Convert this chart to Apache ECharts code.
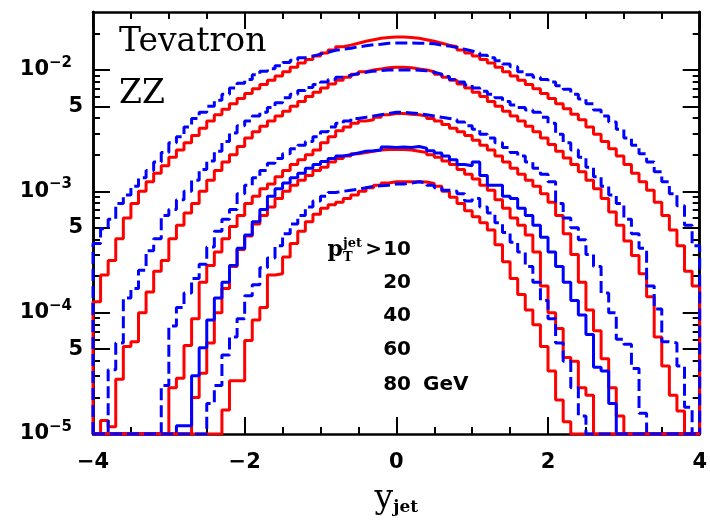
<!DOCTYPE html>
<html>
<head>
<meta charset="utf-8">
<script src="https://cdn.jsdelivr.net/npm/echarts@6/dist/echarts.min.js"></script>
<style>
  html, body { margin: 0; padding: 0; background: #fff; }
  #chart { width: 710px; height: 521px; }
</style>
</head>
<body>
<div id="chart"></div>
<script>
// histogram bins: 80 bins of width 0.1 from y_jet = -4 to 4
const binStart = -4;
const binWidth = 0.1;
const nBins = 80;
const yMin = 1e-5;
const yMax = 0.03;

// pT cut 10 GeV
const red10 = [
  1.23e-4, 2.04e-4, 2.69e-4, 4.07e-4, 6.03e-4, 7.94e-4, 1.00e-3, 1.20e-3, 1.41e-3, 1.62e-3,
  1.91e-3, 2.19e-3, 2.51e-3, 2.88e-3, 3.31e-3, 3.80e-3, 4.27e-3, 4.73e-3, 5.25e-3, 5.82e-3,
  6.38e-3, 7.00e-3, 7.59e-3, 8.22e-3, 8.91e-3, 9.66e-3, 1.05e-2, 1.14e-2, 1.22e-2, 1.30e-2,
  1.38e-2, 1.46e-2, 1.55e-2, 1.60e-2, 1.66e-2, 1.72e-2, 1.77e-2, 1.82e-2, 1.85e-2, 1.87e-2,
  1.87e-2, 1.85e-2, 1.82e-2, 1.77e-2, 1.72e-2, 1.66e-2, 1.60e-2, 1.55e-2, 1.46e-2, 1.38e-2,
  1.30e-2, 1.22e-2, 1.14e-2, 1.05e-2, 9.66e-3, 8.91e-3, 8.22e-3, 7.59e-3, 7.00e-3, 6.38e-3,
  5.82e-3, 5.25e-3, 4.79e-3, 4.32e-3, 3.89e-3, 3.39e-3, 2.95e-3, 2.57e-3, 2.24e-3, 1.95e-3,
  1.66e-3, 1.41e-3, 1.20e-3, 1.02e-3, 8.13e-4, 6.31e-4, 4.79e-4, 3.55e-4, 2.19e-4, 1.66e-4
];
const blue10 = [
  3.72e-4, 4.90e-4, 5.89e-4, 7.94e-4, 9.33e-4, 1.10e-3, 1.29e-3, 1.48e-3, 1.74e-3, 2.09e-3,
  2.51e-3, 2.82e-3, 3.39e-3, 3.98e-3, 4.47e-3, 5.01e-3, 5.62e-3, 6.31e-3, 7.08e-3, 7.76e-3,
  8.32e-3, 9.12e-3, 9.77e-3, 1.02e-2, 1.08e-2, 1.15e-2, 1.20e-2, 1.26e-2, 1.30e-2, 1.35e-2,
  1.40e-2, 1.45e-2, 1.48e-2, 1.51e-2, 1.55e-2, 1.58e-2, 1.61e-2, 1.63e-2, 1.66e-2, 1.67e-2,
  1.67e-2, 1.67e-2, 1.66e-2, 1.66e-2, 1.64e-2, 1.60e-2, 1.57e-2, 1.53e-2, 1.48e-2, 1.43e-2,
  1.38e-2, 1.32e-2, 1.26e-2, 1.19e-2, 1.12e-2, 1.06e-2, 9.66e-3, 9.12e-3, 8.71e-3, 8.32e-3,
  7.94e-3, 7.41e-3, 6.92e-3, 6.31e-3, 5.75e-3, 5.25e-3, 4.68e-3, 4.17e-3, 3.72e-3, 3.24e-3,
  2.75e-3, 2.40e-3, 2.04e-3, 1.74e-3, 1.45e-3, 1.20e-3, 9.55e-4, 7.59e-4, 5.25e-4, 3.55e-4
];
// pT cut 20 GeV
const red20 = [
  0, 1.29e-5, 1.15e-5, 2.82e-5, 5.25e-5, 5.75e-5, 1.00e-4, 1.48e-4, 2.19e-4, 2.69e-4,
  4.07e-4, 5.25e-4, 6.61e-4, 7.94e-4, 1.00e-3, 1.23e-3, 1.48e-3, 1.74e-3, 2.00e-3, 2.34e-3,
  2.75e-3, 3.09e-3, 3.43e-3, 3.80e-3, 4.17e-3, 4.57e-3, 5.01e-3, 5.50e-3, 6.03e-3, 6.53e-3,
  7.08e-3, 7.67e-3, 8.22e-3, 8.71e-3, 9.23e-3, 9.66e-3, 1.00e-2, 1.02e-2, 1.04e-2, 1.05e-2,
  1.05e-2, 1.04e-2, 1.02e-2, 1.00e-2, 9.66e-3, 9.23e-3, 8.71e-3, 8.22e-3, 7.67e-3, 7.08e-3,
  6.53e-3, 6.03e-3, 5.50e-3, 5.01e-3, 4.57e-3, 4.17e-3, 3.80e-3, 3.43e-3, 3.09e-3, 2.75e-3,
  2.43e-3, 2.14e-3, 1.88e-3, 1.66e-3, 1.45e-3, 1.23e-3, 1.05e-3, 8.71e-4, 6.76e-4, 5.25e-4,
  3.89e-4, 2.95e-4, 2.09e-4, 1.35e-4, 6.31e-5, 3.63e-5, 2.09e-5, 1.55e-5, 0, 0
];
const blue20 = [
  0, 0, 3.39e-5, 5.62e-5, 1.32e-4, 1.58e-4, 2.24e-4, 3.24e-4, 4.07e-4, 6.31e-4,
  7.08e-4, 8.51e-4, 1.00e-3, 1.23e-3, 1.51e-3, 1.78e-3, 2.14e-3, 2.57e-3, 3.02e-3, 3.47e-3,
  3.80e-3, 4.17e-3, 4.47e-3, 4.90e-3, 5.37e-3, 5.89e-3, 6.31e-3, 6.76e-3, 7.16e-3, 7.59e-3,
  7.94e-3, 8.32e-3, 8.71e-3, 9.02e-3, 9.33e-3, 9.55e-3, 9.77e-3, 9.89e-3, 1.00e-2, 1.00e-2,
  1.00e-2, 1.00e-2, 9.93e-3, 9.82e-3, 9.55e-3, 9.23e-3, 8.81e-3, 8.32e-3, 7.94e-3, 7.50e-3,
  7.08e-3, 6.68e-3, 6.31e-3, 5.89e-3, 5.50e-3, 5.13e-3, 4.90e-3, 4.68e-3, 4.47e-3, 4.07e-3,
  3.63e-3, 2.95e-3, 2.51e-3, 2.19e-3, 1.91e-3, 1.58e-3, 1.32e-3, 1.10e-3, 9.33e-4, 7.94e-4,
  5.89e-4, 4.47e-4, 3.39e-4, 1.66e-4, 1.07e-4, 5.75e-5, 5.62e-5, 3.63e-5, 1.66e-5, 0
];
// pT cut 40 GeV
const red40 = [
  0, 0, 0, 0, 0, 0, 0, 0, 0, 0,
  2.40e-5, 2.88e-5, 5.37e-5, 8.91e-5, 1.78e-4, 2.45e-4, 3.16e-4, 4.07e-4, 5.13e-4, 6.31e-4,
  7.94e-4, 9.12e-4, 1.05e-3, 1.15e-3, 1.32e-3, 1.48e-3, 1.66e-3, 1.82e-3, 2.00e-3, 2.19e-3,
  2.51e-3, 2.82e-3, 3.16e-3, 3.39e-3, 3.63e-3, 3.80e-3, 3.89e-3, 4.07e-3, 4.27e-3, 4.37e-3,
  4.37e-3, 4.32e-3, 4.27e-3, 4.17e-3, 3.98e-3, 3.80e-3, 3.55e-3, 3.31e-3, 3.09e-3, 2.88e-3,
  2.63e-3, 2.40e-3, 2.19e-3, 1.95e-3, 1.74e-3, 1.55e-3, 1.38e-3, 1.23e-3, 1.10e-3, 9.55e-4,
  8.13e-4, 6.31e-4, 4.47e-4, 3.02e-4, 1.78e-4, 1.05e-4, 7.08e-5, 4.17e-5, 2.40e-5, 1.41e-5,
  0, 0, 0, 0, 0, 0, 0, 0, 0, 0
];
const blue40 = [
  0, 0, 0, 0, 0, 0, 0, 0, 0, 2.51e-5,
  7.76e-5, 1.10e-4, 1.45e-4, 1.91e-4, 2.51e-4, 3.47e-4, 4.68e-4, 5.89e-4, 7.08e-4, 9.55e-4,
  1.12e-3, 1.29e-3, 1.48e-3, 1.70e-3, 1.86e-3, 2.04e-3, 2.24e-3, 2.40e-3, 2.57e-3, 2.82e-3,
  3.09e-3, 3.39e-3, 3.63e-3, 3.80e-3, 3.98e-3, 4.07e-3, 4.17e-3, 4.27e-3, 4.37e-3, 4.47e-3,
  4.47e-3, 4.42e-3, 4.37e-3, 4.27e-3, 4.17e-3, 4.07e-3, 3.98e-3, 3.89e-3, 3.72e-3, 3.47e-3,
  3.24e-3, 2.95e-3, 2.75e-3, 2.51e-3, 2.29e-3, 2.09e-3, 1.95e-3, 1.74e-3, 1.55e-3, 1.38e-3,
  1.20e-3, 7.94e-4, 6.03e-4, 5.01e-4, 3.98e-4, 3.02e-4, 2.40e-4, 1.45e-4, 1.00e-4, 6.03e-5,
  5.50e-5, 3.47e-5, 1.48e-5, 0, 0, 0, 0, 0, 0, 0
];
// pT cut 60 GeV
const red60 = [
  0, 0, 0, 0, 0, 0, 0, 0, 0, 0,
  0, 0, 0, 2.00e-5, 3.16e-5, 5.62e-5, 1.00e-4, 1.58e-4, 2.40e-4, 3.31e-4,
  4.27e-4, 5.37e-4, 6.31e-4, 7.41e-4, 8.71e-4, 1.00e-3, 1.12e-3, 1.23e-3, 1.35e-3, 1.48e-3,
  1.58e-3, 1.74e-3, 1.86e-3, 1.95e-3, 2.04e-3, 2.09e-3, 2.14e-3, 2.19e-3, 2.21e-3, 2.22e-3,
  2.21e-3, 2.19e-3, 2.14e-3, 2.09e-3, 2.00e-3, 1.91e-3, 1.78e-3, 1.66e-3, 1.51e-3, 1.38e-3,
  1.26e-3, 1.12e-3, 1.02e-3, 8.51e-4, 7.24e-4, 6.03e-4, 5.25e-4, 4.37e-4, 3.16e-4, 1.66e-4,
  1.00e-4, 7.41e-5, 4.27e-5, 3.98e-5, 2.40e-5, 2.09e-5, 0, 0, 0, 0,
  0, 0, 0, 0, 0, 0, 0, 0, 0, 0
];
const blue60 = [
  0, 0, 0, 0, 0, 0, 0, 0, 0, 0,
  0, 1.17e-5, 1.17e-5, 3.02e-5, 5.13e-5, 8.71e-5, 1.32e-4, 1.78e-4, 2.45e-4, 3.39e-4,
  4.37e-4, 5.62e-4, 7.08e-4, 9.12e-4, 1.05e-3, 1.17e-3, 1.29e-3, 1.41e-3, 1.55e-3, 1.66e-3,
  1.76e-3, 1.86e-3, 1.95e-3, 2.00e-3, 2.07e-3, 2.14e-3, 2.16e-3, 2.19e-3, 2.32e-3, 2.29e-3,
  2.32e-3, 2.29e-3, 2.34e-3, 2.26e-3, 2.16e-3, 2.07e-3, 1.95e-3, 1.82e-3, 1.66e-3, 1.62e-3,
  1.74e-3, 1.35e-3, 1.12e-3, 1.12e-3, 9.12e-4, 8.71e-4, 7.24e-4, 6.31e-4, 5.25e-4, 4.17e-4,
  3.16e-4, 2.40e-4, 1.78e-4, 1.26e-4, 9.55e-5, 6.61e-5, 3.55e-5, 3.31e-5, 1.78e-5, 0,
  0, 0, 0, 0, 0, 0, 0, 0, 0, 0
];
// pT cut 80 GeV
const red80 = [
  0, 0, 0, 0, 0, 0, 0, 0, 0, 0,
  0, 0, 0, 0, 0, 0, 0, 1.58e-5, 2.75e-5, 2.75e-5,
  5.89e-5, 8.71e-5, 1.10e-4, 2.04e-4, 2.09e-4, 2.88e-4, 3.72e-4, 4.68e-4, 5.62e-4, 6.46e-4,
  7.24e-4, 7.76e-4, 8.13e-4, 8.71e-4, 9.33e-4, 1.00e-3, 1.07e-3, 1.12e-3, 1.17e-3, 1.20e-3,
  1.20e-3, 1.20e-3, 1.20e-3, 1.19e-3, 1.16e-3, 1.10e-3, 1.00e-3, 8.91e-4, 7.94e-4, 6.92e-4,
  6.17e-4, 5.50e-4, 4.79e-4, 3.63e-4, 2.63e-4, 1.91e-4, 1.41e-4, 1.05e-4, 7.94e-5, 5.25e-5,
  3.31e-5, 1.91e-5, 1.26e-5, 0, 0, 0, 0, 0, 0, 0,
  0, 0, 0, 0, 0, 0, 0, 0, 0, 0
];
const blue80 = [
  0, 0, 0, 0, 0, 0, 0, 0, 0, 0,
  0, 0, 0, 0, 0, 1.78e-5, 2.51e-5, 4.47e-5, 6.31e-5, 8.91e-5,
  1.38e-4, 1.70e-4, 2.34e-4, 2.82e-4, 3.55e-4, 4.47e-4, 5.37e-4, 6.31e-4, 7.41e-4, 8.32e-4,
  9.12e-4, 9.77e-4, 1.00e-3, 1.02e-3, 1.04e-3, 1.07e-3, 1.10e-3, 1.11e-3, 1.12e-3, 1.15e-3,
  1.15e-3, 1.17e-3, 1.20e-3, 1.17e-3, 1.12e-3, 1.07e-3, 1.02e-3, 1.00e-3, 9.55e-4, 8.32e-4,
  8.71e-4, 7.41e-4, 6.61e-4, 5.50e-4, 4.57e-4, 3.80e-4, 3.16e-4, 2.40e-4, 1.78e-4, 1.26e-4,
  8.91e-5, 5.62e-5, 3.98e-5, 2.40e-5, 1.41e-5, 0, 0, 0, 0, 0,
  0, 0, 0, 0, 0, 0, 0, 0, 0, 0
];

// log axis ticks
const majorTicks = [1e-5, 5e-5, 1e-4, 5e-4, 1e-3, 5e-3, 1e-2];
const minorTicks = [
  2e-5, 3e-5, 4e-5, 6e-5, 7e-5, 8e-5, 9e-5,
  2e-4, 3e-4, 4e-4, 6e-4, 7e-4, 8e-4, 9e-4,
  2e-3, 3e-3, 4e-3, 6e-3, 7e-3, 8e-3, 9e-3,
  2e-2
];
const cutLabels = ['10', '20', '40', '60', '80'];

const RED = '#ff0000';
const BLUE = '#0000ff';
const curves = [
  { vals: red10, color: RED, dash: 'solid' },
  { vals: blue10, color: BLUE, dash: [12, 5] },
  { vals: red20, color: RED, dash: 'solid' },
  { vals: blue20, color: BLUE, dash: [12, 5] },
  { vals: red40, color: RED, dash: 'solid' },
  { vals: blue40, color: BLUE, dash: [12, 5] },
  { vals: red60, color: RED, dash: 'solid' },
  { vals: blue60, color: BLUE, dash: 'solid' },
  { vals: red80, color: RED, dash: 'solid' },
  { vals: blue80, color: BLUE, dash: [12, 5] }
];

// histogram outline: step at each bin's lower edge, closed to the axis at both ends
function stepData(vals) {
  const pts = [[binStart, yMin]];
  vals.forEach(function (v, i) {
    pts.push([+(binStart + i * binWidth).toFixed(2), Math.max(v, yMin)]);
  });
  const xEnd = binStart + nBins * binWidth;
  pts.push([xEnd, Math.max(vals[nBins - 1], yMin)]);
  pts.push([xEnd, yMin]);
  return pts;
}

const SANS = '"DejaVu Sans", sans-serif';
const SERIF = '"DejaVu Serif", serif';
const frame = { show: true, onZero: false, lineStyle: { color: '#000', width: 2.5 } };

function xAxisCfg(pos, labels) {
  return {
    type: 'value', position: pos, min: -4, max: 4, interval: 2,
    axisLine: frame,
    axisTick: { inside: true, length: 17, lineStyle: { color: '#000', width: 2 } },
    minorTick: { show: true, splitNumber: 4, length: 7, lineStyle: { color: '#000', width: 2 } },
    splitLine: { show: false },
    axisLabel: {
      show: labels, margin: 18, color: '#000', fontSize: 21, fontWeight: 'bold', fontFamily: SANS,
      formatter: function (v) { return v < 0 ? '\u2212' + (-v) : String(v); }
    }
  };
}

function yAxisCfg(pos, ticks, len, labels) {
  return {
    type: 'log', logBase: 10, position: pos, min: yMin, max: yMax,
    axisLine: frame,
    axisTick: { inside: true, length: len, customValues: ticks, lineStyle: { color: '#000', width: 2 } },
    minorTick: { show: false },
    splitLine: { show: false },
    axisLabel: labels ? {
      show: true, margin: 10, customValues: majorTicks,
      formatter: function (v) {
        const e = Math.floor(Math.log10(v) + 1e-9);
        const m = Math.round(v / Math.pow(10, e));
        if (m === 1) return '{b|10}{e|\u2212' + (-e) + '}';
        return '{b|' + m + '}';
      },
      rich: {
        b: { fontSize: 21, fontWeight: 'bold', fontFamily: SANS, color: '#000', verticalAlign: 'middle' },
        e: { fontSize: 15, fontWeight: 'bold', fontFamily: SANS, color: '#000', verticalAlign: 'middle',
             lineHeight: 15, padding: [0, 11, 14, 0] }
      }
    } : { show: false }
  };
}

const chart = echarts.init(document.getElementById('chart'), null, { renderer: 'canvas' });

const legendTexts = [];
const legendY = [250, 282.5, 316, 350, 384.5];
cutLabels.forEach(function (t, i) {
  legendTexts.push({
    type: 'text', x: 411, y: legendY[i],
    style: { text: t, font: 'bold 20px ' + SANS, fill: '#000', textAlign: 'right', verticalAlign: 'middle' }
  });
});

chart.setOption({
  animation: false,
  backgroundColor: '#fff',
  grid: { left: 93, right: 10, top: 12, bottom: 85, containLabel: false },
  xAxis: [
    Object.assign(xAxisCfg('bottom', true), {
      name: '{y|y}{s|jet}', nameLocation: 'middle', nameGap: 49,
      nameTextStyle: {
        rich: {
          y: { fontSize: 33, fontFamily: SERIF, color: '#000' },
          s: { fontSize: 17, fontWeight: 'bold', fontFamily: SERIF, color: '#000', padding: [16, 0, 0, 0] }
        }
      }
    }),
    xAxisCfg('top', false)
  ],
  yAxis: [
    yAxisCfg('left', majorTicks, 17, true),
    yAxisCfg('left', minorTicks, 7, false),
    yAxisCfg('right', majorTicks, 17, false),
    yAxisCfg('right', minorTicks, 7, false)
  ],
  series: curves.map(function (c) {
    return {
      type: 'line', step: 'end', xAxisIndex: 0, yAxisIndex: 0,
      data: stepData(c.vals), showSymbol: false, symbol: 'none',
      lineStyle: { color: c.color, width: 3, type: c.dash },
      silent: true
    };
  }),
  graphic: [
    { type: 'text', left: 119, top: 26, style: { text: 'Tevatron', font: '33px ' + SERIF, fill: '#000' } },
    { type: 'text', left: 119, top: 78, style: { text: 'ZZ', font: '33px ' + SERIF, fill: '#000' } },
    { type: 'text', x: 343, y: 250, style: { text: 'p', font: 'bold 22px ' + SERIF, fill: '#000', textAlign: 'right', verticalAlign: 'middle' } },
    { type: 'text', x: 343, y: 244, style: { text: 'jet', font: 'bold 13px ' + SERIF, fill: '#000', textAlign: 'left', verticalAlign: 'middle' } },
    { type: 'text', x: 343, y: 258, style: { text: 'T', font: 'bold 13px ' + SERIF, fill: '#000', textAlign: 'left', verticalAlign: 'middle' } },
    { type: 'text', x: 382, y: 250, style: { text: '>', font: 'bold 20px ' + SANS, fill: '#000', textAlign: 'right', verticalAlign: 'middle' } },
    { type: 'text', x: 423, y: 384.5, style: { text: 'GeV', font: 'bold 20px ' + SANS, fill: '#000', textAlign: 'left', verticalAlign: 'middle' } }
  ].concat(legendTexts)
});
</script>
</body>
</html>
